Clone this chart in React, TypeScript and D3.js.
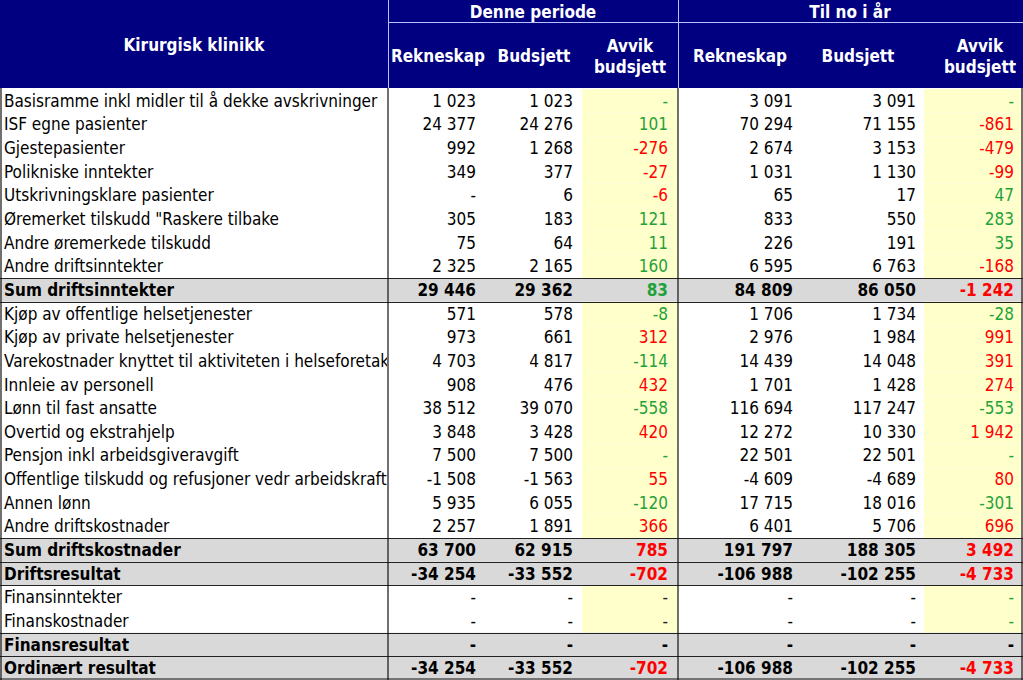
import React from 'react';
import * as d3 from 'd3';

// row labels
const labels = [
  'Basisramme inkl midler til å dekke avskrivninger',
  'ISF egne pasienter',
  'Gjestepasienter',
  'Polikniske inntekter',
  'Utskrivningsklare pasienter',
  'Øremerket tilskudd "Raskere tilbake',
  'Andre øremerkede tilskudd',
  'Andre driftsinntekter',
  'Sum driftsinntekter',
  'Kjøp av offentlige helsetjenester',
  'Kjøp av private helsetjenester',
  'Varekostnader knyttet til aktiviteten i helseforetak',
  'Innleie av personell',
  'Lønn til fast ansatte',
  'Overtid og ekstrahjelp',
  'Pensjon inkl arbeidsgiveravgift',
  'Offentlige tilskudd og refusjoner vedr arbeidskraft',
  'Annen lønn',
  'Andre driftskostnader',
  'Sum driftskostnader',
  'Driftsresultat',
  'Finansinntekter',
  'Finanskostnader',
  'Finansresultat',
  'Ordinært resultat',
];

// row kind: i = income, c = cost, s = sum/result (bold, grey), f = finans
const kinds = ['i', 'i', 'i', 'i', 'i', 'i', 'i', 'i', 's', 'c', 'c', 'c', 'c', 'c', 'c', 'c', 'c', 'c', 'c', 's', 's', 'f', 'f', 's', 's'];
// sums: is a positive avvik good?
const sumGood = { 8: true, 19: false, 20: true, 23: true, 24: true };

// Denne periode
const periodRekneskap = [1023, 24377, 992, 349, 0, 305, 75, 2325, 29446, 571, 973, 4703, 908, 38512, 3848, 7500, -1508, 5935, 2257, 63700, -34254, 0, 0, 0, -34254];
const periodBudsjett = [1023, 24276, 1268, 377, 6, 183, 64, 2165, 29362, 578, 661, 4817, 476, 39070, 3428, 7500, -1563, 6055, 1891, 62915, -33552, 0, 0, 0, -33552];
const periodAvvik = [0, 101, -276, -27, -6, 121, 11, 160, 83, -8, 312, -114, 432, -558, 420, 0, 55, -120, 366, 785, -702, 0, 0, 0, -702];

// Til no i år
const ytdRekneskap = [3091, 70294, 2674, 1031, 65, 833, 226, 6595, 84809, 1706, 2976, 14439, 1701, 116694, 12272, 22501, -4609, 17715, 6401, 191797, -106988, 0, 0, 0, -106988];
const ytdBudsjett = [3091, 71155, 3153, 1130, 17, 550, 191, 6763, 86050, 1734, 1984, 14048, 1428, 117247, 10330, 22501, -4689, 18016, 5706, 188305, -102255, 0, 0, 0, -102255];
const ytdAvvik = [0, -861, -479, -99, 47, 283, 35, -168, -1242, -28, 991, 391, 274, -553, 1942, 0, 80, -301, 696, 3492, -4733, 0, 0, 0, -4733];

const groupNames = ['Denne periode', 'Til no i år'];
const colNames = ['Rekneskap', 'Budsjett', 'Avvik budsjett'];

const W = 1023;
const H = 680;
const headerH = 88;
const labelW = 388;
const colEdges = [388, 485, 582, 678, 800, 924, 1022];
const valueRight = [476, 573, 668, 793, 916, 1014];
const headerCenters = [438, 534, 630, 740, 858, 980];

const navy = '#000080';
const grey = '#d9d9d9';
const yellow = '#ffffcc';
const green = '#1fa23a';
const red = '#ff0000';
const font = '"DejaVu Sans Condensed", "DejaVu Sans", sans-serif';
const fs = 17;

const locale = d3.formatLocale({ decimal: ',', thousands: ' ', grouping: [3], currency: ['', ''], minus: '-' });
const fmtNum = locale.format(',d');
const fmt = (v: number) => (v === 0 ? '-' : fmtNum(v));

function avvikColor(i: number, v: number, ytd: boolean) {
  const k = kinds[i];
  if (k === 'f') return ytd ? green : '#222';
  if (k === 's') {
    if (v === 0) return '#000';
    const goodPos = sumGood[i as keyof typeof sumGood];
    return (v > 0) === goodPos ? green : red;
  }
  if (v === 0) return green;
  const good = k === 'i' ? v > 0 : v < 0;
  return good ? green : red;
}

export default function App() {
  const y = d3.scaleBand<number>().domain(d3.range(labels.length)).range([headerH + 1, H]);
  const rh = y.bandwidth();
  const columns = [periodRekneskap, periodBudsjett, periodAvvik, ytdRekneskap, ytdBudsjett, ytdAvvik];

  return (
    <svg width={W} height={H} style={{ position: 'absolute', left: 0, top: 0, fontFamily: font }}>
      <defs>
        <clipPath id="labelClip">
          <rect x={0} y={0} width={labelW - 1} height={H} />
        </clipPath>
      </defs>
      <rect x={0} y={0} width={W} height={H} fill="#fff" />

      {/* header */}
      <rect x={0} y={0} width={W} height={headerH} fill={navy} />
      <line x1={labelW} x2={W} y1={22.5} y2={22.5} stroke="#b8c0ff" />
      <line x1={labelW + 0.5} x2={labelW + 0.5} y1={0} y2={headerH} stroke="#b8c0ff" />
      <line x1={colEdges[3] + 0.5} x2={colEdges[3] + 0.5} y1={0} y2={headerH} stroke="#b8c0ff" />
      <text x={labelW / 2} y={51} fill="#fff" fontSize={fs} fontWeight="bold" textAnchor="middle">
        Kirurgisk klinikk
      </text>
      {groupNames.map((g, gi) => (
        <text key={g} x={(colEdges[gi * 3] + colEdges[gi * 3 + 3]) / 2} y={18} fill="#fff" fontSize={fs} fontWeight="bold" textAnchor="middle">
          {g}
        </text>
      ))}
      {headerCenters.map((cx, ci) => {
        const name = colNames[ci % 3];
        const parts = name.split(' ');
        return parts.length === 1 ? (
          <text key={ci} x={cx} y={62} fill="#fff" fontSize={fs} fontWeight="bold" textAnchor="middle">
            {name}
          </text>
        ) : (
          <text key={ci} x={cx} fill="#fff" fontSize={fs} fontWeight="bold" textAnchor="middle">
            <tspan x={cx} y={52}>{parts[0]}</tspan>
            <tspan x={cx} y={73}>{parts[1]}</tspan>
          </text>
        );
      })}

      {/* body backgrounds */}
      {labels.map((_, i) => {
        const y0 = y(i) as number;
        if (kinds[i] === 's') return <rect key={i} x={0} y={y0} width={W} height={rh} fill={grey} />;
        return (
          <g key={i}>
            <rect x={colEdges[2]} y={y0} width={colEdges[3] - colEdges[2]} height={rh} fill={yellow} />
            <rect x={colEdges[5]} y={y0} width={colEdges[6] - colEdges[5]} height={rh} fill={yellow} />
          </g>
        );
      })}

      {/* horizontal rules around sum rows */}
      {labels.map((_, i) => {
        if (kinds[i] !== 's') return null;
        const y0 = Math.round(y(i) as number) + 0.5;
        const y1 = Math.round((y(i) as number) + rh) + 0.5;
        return (
          <g key={'h' + i} stroke="#222" strokeWidth={1}>
            <line x1={0} x2={W} y1={y0} y2={y0} />
            <line x1={0} x2={W} y1={y1} y2={y1} />
          </g>
        );
      })}

      {/* vertical rules */}
      <g stroke="#111" strokeWidth={1.2}>
        <line x1={1} x2={1} y1={headerH} y2={H} />
        <line x1={labelW} x2={labelW} y1={headerH} y2={H} />
        <line x1={colEdges[3]} x2={colEdges[3]} y1={headerH} y2={H} />
        <line x1={W - 1} x2={W - 1} y1={headerH} y2={H} />
        <line x1={0} x2={W} y1={H - 1} y2={H - 1} />
      </g>

      {/* labels */}
      <g clipPath="url(#labelClip)">
        {labels.map((l, i) => (
          <text key={l} x={4} y={(y(i) as number) + rh / 2 + 6} fontSize={fs} fill="#000" fontWeight={kinds[i] === 's' ? 'bold' : 'normal'}>
            {l}
          </text>
        ))}
      </g>

      {/* values */}
      {columns.map((col, ci) =>
        col.map((v, i) => {
          const isAvvik = ci === 2 || ci === 5;
          const fill = isAvvik ? avvikColor(i, v, ci === 5) : '#000';
          return (
            <text
              key={ci + '-' + i}
              x={valueRight[ci]}
              y={(y(i) as number) + rh / 2 + 6}
              fontSize={fs}
              textAnchor="end"
              fill={fill}
              fontWeight={kinds[i] === 's' ? 'bold' : 'normal'}
            >
              {fmt(v)}
            </text>
          );
        })
      )}
    </svg>
  );
}
